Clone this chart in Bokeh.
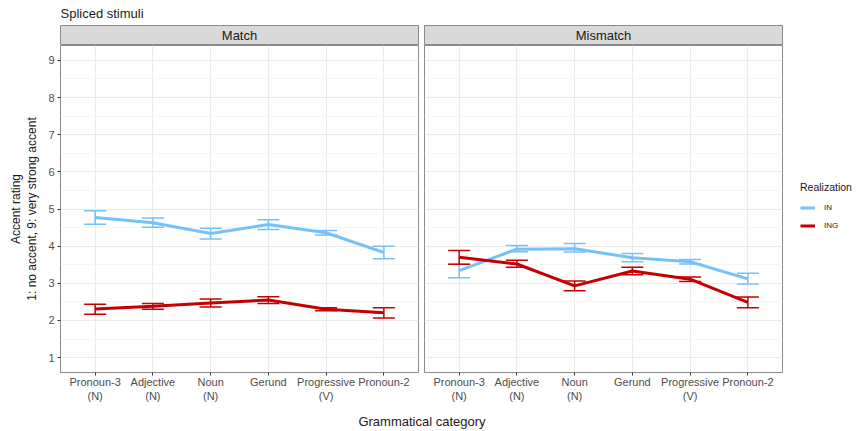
from bokeh.plotting import figure
from bokeh.models import (FactorRange, Range1d, FixedTicker, ColumnDataSource, Whisker, TeeHead,
                          Legend, LegendItem, Label)
from bokeh.layouts import row, column
from bokeh.embed import file_html
from bokeh.resources import INLINE

FONT = "Liberation Sans"
OUTLINE = "#8A8A8A"
IN_COLOR = "#74C2F8"
ING_COLOR = "#C40000"

title_text = "Spliced stimuli"
x_title = "Grammatical category"
y_title = "Accent rating\n1: no accent, 9: very strong accent"
panels = ["Match", "Mismatch"]
realizations = ["IN", "ING"]
categories = ["Pronoun-3\n(N)", "Adjective\n(N)", "Noun\n(N)", "Gerund", "Progressive\n(V)", "Pronoun-2"]
y_ticks = [1, 2, 3, 4, 5, 6, 7, 8, 9]
y_minor = [1.5, 2.5, 3.5, 4.5, 5.5, 6.5, 7.5, 8.5]

match_in_mean = [4.77, 4.63, 4.34, 4.58, 4.36, 3.83]
match_in_lower = [4.59, 4.51, 4.19, 4.45, 4.30, 3.66]
match_in_upper = [4.95, 4.76, 4.48, 4.71, 4.42, 4.00]
match_ing_mean = [2.31, 2.38, 2.47, 2.55, 2.30, 2.21]
match_ing_lower = [2.17, 2.30, 2.36, 2.46, 2.26, 2.07]
match_ing_upper = [2.44, 2.46, 2.58, 2.64, 2.34, 2.34]

mismatch_in_mean = [3.34, 3.92, 3.93, 3.69, 3.58, 3.12]
mismatch_in_lower = [3.15, 3.85, 3.84, 3.58, 3.52, 2.98]
mismatch_in_upper = [3.51, 4.02, 4.07, 3.80, 3.64, 3.27]
mismatch_ing_mean = [3.70, 3.52, 2.93, 3.33, 3.11, 2.49]
mismatch_ing_lower = [3.51, 3.43, 2.80, 3.23, 3.05, 2.34]
mismatch_ing_upper = [3.88, 3.62, 3.06, 3.43, 3.17, 2.63]

FRAME_W = 358
LEFT_B = 60
GAP = 3
RIGHT_B = 74


def blank_fig(fw, fh, left, right, top=0, bottom=0):
    f = figure(x_range=Range1d(0, 1), y_range=Range1d(0, 1), frame_width=fw, frame_height=fh,
               x_axis_type=None, y_axis_type=None, min_border_left=left, min_border_right=right,
               min_border_top=top, min_border_bottom=bottom, output_backend="svg", toolbar_location=None)
    f.outline_line_color = None
    f.background_fill_color = None
    f.border_fill_color = None
    return f


def make_strip(text, left, right):
    s = blank_fig(FRAME_W, 20, left, right)
    s.background_fill_color = "#D9D9D9"
    s.outline_line_color = OUTLINE
    s.add_layout(Label(x=0.5, y=0.5, text=text, text_align="center", text_baseline="middle",
                       text_font=FONT, text_font_size="13px", text_color="#1A1A1A"))
    return s


def make_panel(series, show_y, left, right):
    p = figure(x_range=FactorRange(factors=categories, range_padding=0.1, range_padding_units="absolute"),
               y_range=Range1d(0.6, 9.4), frame_width=FRAME_W, frame_height=327,
               min_border_left=left, min_border_right=right, min_border_top=0, min_border_bottom=30,
               output_backend="svg", toolbar_location=None)
    p.outline_line_color = OUTLINE
    p.border_fill_color = None
    ticker = FixedTicker(ticks=y_ticks, minor_ticks=y_minor)
    p.yaxis.ticker = ticker
    p.ygrid.ticker = ticker
    p.ygrid.grid_line_color = "#EBEBEB"
    p.ygrid.minor_grid_line_color = "#F5F5F5"
    p.xgrid.grid_line_color = "#EBEBEB"
    for ax in (p.xaxis, p.yaxis):
        ax.axis_line_color = None
        ax.major_tick_out = 3
        ax.major_tick_in = 0
        ax.major_tick_line_color = "#333333"
        ax.minor_tick_line_color = None
        ax.major_label_text_font = FONT
        ax.major_label_text_font_size = "11px"
        ax.major_label_text_color = "#4D4D4D"
        ax.major_label_standoff = 2
    p.xaxis.major_label_standoff = 0
    if show_y:
        p.yaxis.axis_label = y_title
        p.yaxis.axis_label_text_font = FONT
        p.yaxis.axis_label_text_font_size = "12px"
        p.yaxis.axis_label_text_font_style = "normal"
        p.yaxis.axis_label_text_color = "#1A1A1A"
        p.yaxis.axis_label_standoff = 6
    else:
        p.yaxis.visible = False
    rends = {}
    for name, color, mean, lower, upper in series:
        src = ColumnDataSource(dict(cat=categories, mean=mean, lower=lower, upper=upper))
        w = Whisker(base="cat", upper="upper", lower="lower", source=src,
                    line_color=color, line_width=1.5, level="glyph",
                    upper_head=TeeHead(size=22, line_color=color, line_width=1.5),
                    lower_head=TeeHead(size=22, line_color=color, line_width=1.5))
        p.add_layout(w)
        rends[name] = p.line("cat", "mean", source=src, line_color=color, line_width=3)
    return p, rends


title_fig = blank_fig(2 * FRAME_W + 2 * GAP + 1, 25, LEFT_B, 0)
title_fig.add_layout(Label(x=0, y=0.48, text=title_text, text_align="left", text_baseline="middle",
                           text_font=FONT, text_font_size="13px", text_color="#1A1A1A"))

strip_l = make_strip(panels[0], LEFT_B, GAP)
strip_r = make_strip(panels[1], GAP, RIGHT_B)

panel_l, _ = make_panel([
    (realizations[0], IN_COLOR, match_in_mean, match_in_lower, match_in_upper),
    (realizations[1], ING_COLOR, match_ing_mean, match_ing_lower, match_ing_upper),
], True, LEFT_B, GAP)
panel_r, rr = make_panel([
    (realizations[0], IN_COLOR, mismatch_in_mean, mismatch_in_lower, mismatch_in_upper),
    (realizations[1], ING_COLOR, mismatch_ing_mean, mismatch_ing_lower, mismatch_ing_upper),
], False, GAP, RIGHT_B)

legend = Legend(items=[LegendItem(label=realizations[0], renderers=[rr[realizations[0]]]),
                       LegendItem(label=realizations[1], renderers=[rr[realizations[1]]])],
                title="Realization", location=(18, 138), orientation="vertical",
                title_text_font=FONT, title_text_font_size="10.5px", title_text_font_style="normal",
                title_text_color="#1A1A1A", title_standoff=6,
                label_text_font=FONT, label_text_font_size="8px", label_text_color="#1A1A1A",
                glyph_width=15, glyph_height=17, label_standoff=9, label_height=17,
                spacing=1, padding=0, margin=0, border_line_color=None, background_fill_alpha=0)
panel_r.add_layout(legend, "right")

xlabel_fig = blank_fig(2 * FRAME_W + 2 * GAP + 1, 26, LEFT_B, 0)
xlabel_fig.add_layout(Label(x=0.5, y=0.36, text=x_title, text_align="center", text_baseline="middle",
                            text_font=FONT, text_font_size="13px", text_color="#1A1A1A"))

layout = column(title_fig,
                row(column(strip_l, panel_l), column(strip_r, panel_r)),
                xlabel_fig)

open("out.html", "w").write(file_html(layout, INLINE))
